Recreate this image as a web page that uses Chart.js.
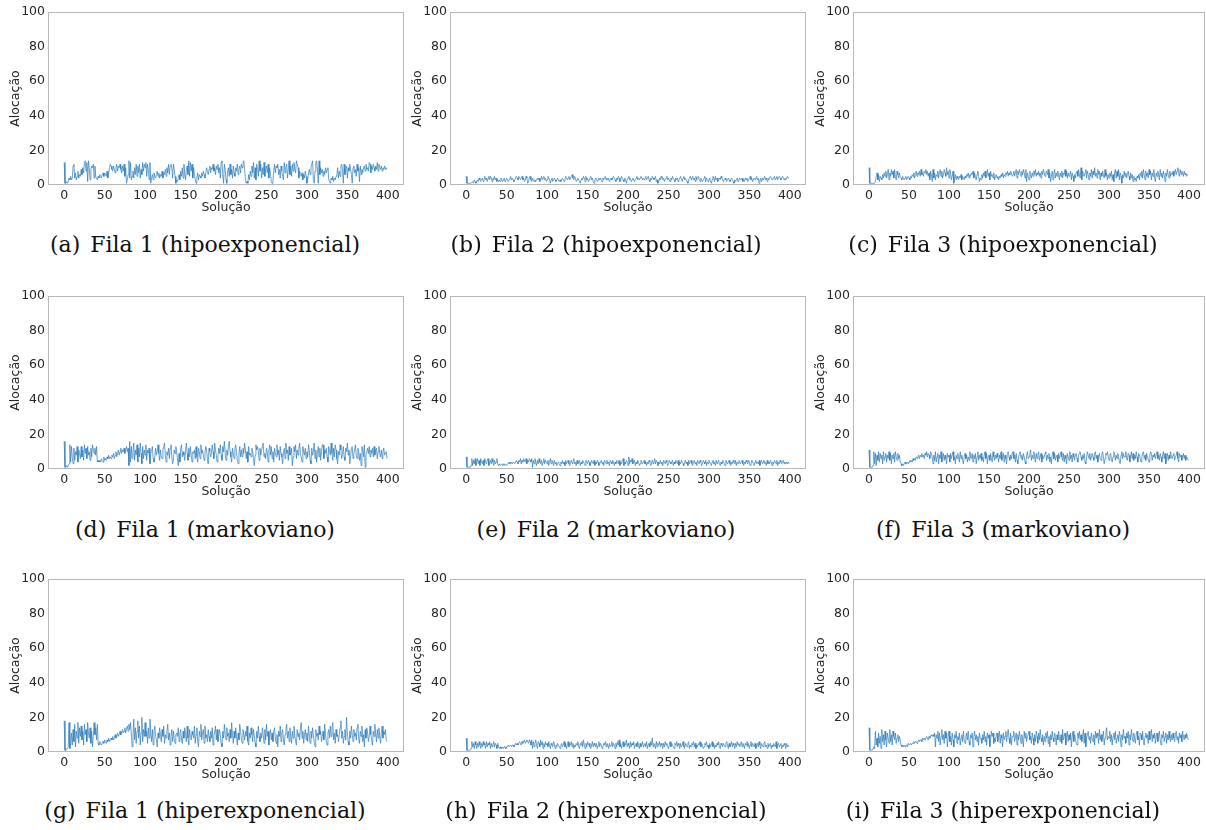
<!DOCTYPE html>
<html>
<head>
<meta charset="utf-8">
<script src="https://cdn.jsdelivr.net/npm/chart.js@4.4.0/dist/chart.umd.min.js"></script>
<style>
  body { margin: 0; background: #fff; width: 1206px; height: 830px; position: relative; overflow: hidden; }
  canvas { position: absolute; }
  .cap { position: absolute; font-family: "DejaVu Serif", serif; font-size: 22px; line-height: 28px; color: #111; white-space: nowrap; transform: translateX(-50%); }
  .cap span { margin-right: 10px; }
</style>
</head>
<body>
<script>
const xTicks = [0, 50, 100, 150, 200, 250, 300, 350, 400];
const yTicks = [0, 20, 40, 60, 80, 100];
const letters = ["(a)", "(b)", "(c)", "(d)", "(e)", "(f)", "(g)", "(h)", "(i)"];
const captions = [
  "Fila 1 (hipoexponencial)", "Fila 2 (hipoexponencial)", "Fila 3 (hipoexponencial)",
  "Fila 1 (markoviano)", "Fila 2 (markoviano)", "Fila 3 (markoviano)",
  "Fila 1 (hiperexponencial)", "Fila 2 (hiperexponencial)", "Fila 3 (hiperexponencial)"
];

// alocação por solução (0..399)
const fila1Hipo = [
13,1,1,2,1,2,4,3,5,3,4,11,12,4,7,3,5,8,4,6,
5,9,6,10,7,13,14,8,13,2,14,10,3,9,11,10,12,4,11,5,
4,3,5,4,6,5,4,6,7,5,7,6,5,8,4,7,10,12,11,9,
8,11,9,7,10,12,8,11,10,12,9,7,11,8,12,5,10,1,3,6,
14,4,13,3,5,8,4,10,6,12,5,11,7,12,4,9,6,13,8,12,
10,13,5,12,9,3,13,1,4,6,3,7,5,4,6,8,5,7,4,6,
5,8,4,7,6,9,5,10,7,12,6,11,12,10,4,12,9,5,1,3,
2,4,6,3,8,5,10,4,12,7,3,9,11,6,14,5,13,8,12,4,
10,6,3,1,4,7,3,6,5,4,7,5,8,6,4,7,10,8,6,9,
11,7,10,9,12,8,10,6,11,9,12,7,10,4,13,14,6,1,12,9,
3,1,8,10,5,12,6,9,4,11,7,5,10,8,12,6,9,11,7,12,
10,13,14,9,4,1,2,1,6,3,8,5,11,7,13,4,10,3,12,9,
5,14,8,12,4,10,6,13,5,9,11,7,12,4,10,6,2,1,3,8,
12,7,11,10,12,6,9,4,11,8,5,3,13,7,10,12,4,9,14,6,
11,5,12,8,13,9,7,14,12,10,4,8,6,5,7,3,6,4,8,5,
1,3,7,9,6,10,12,14,3,1,8,13,14,9,1,14,6,10,7,9,
5,8,6,10,7,9,10,3,2,1,4,3,5,2,4,3,5,6,10,4,
8,5,11,12,9,1,12,6,10,11,4,10,8,12,9,6,1,10,11,7,
9,5,12,8,10,2,11,6,9,7,10,11,8,12,9,10,8,13,12,7,
11,9,12,10,8,11,9,13,8,12,10,9,11,8,10,9,11,9,10,9
];
const fila2Hipo = [
5,1,1,1,1,1,1,1,2,1,3,2,1,2,3,2,4,3,2,3,
4,2,3,5,3,4,2,4,5,3,5,4,2,4,3,5,3,4,2,3,
2,3,2,4,3,2,3,4,2,3,4,3,2,3,4,5,3,4,3,2,
3,4,5,4,3,5,4,3,4,5,3,4,2,3,5,4,1,2,4,5,
3,2,4,3,2,3,2,3,4,3,4,2,3,5,3,4,5,3,4,2,
3,5,4,3,1,3,4,2,3,4,3,2,3,4,3,2,3,2,3,4,
3,2,3,5,4,3,4,5,3,4,5,6,4,3,5,4,2,3,4,3,
2,1,3,4,3,5,4,2,5,3,4,2,3,4,5,3,4,2,1,3,
4,3,2,3,4,3,4,3,2,4,3,4,5,3,4,3,4,2,3,4,
3,4,5,4,3,2,4,3,5,4,2,3,5,4,3,2,4,3,1,3,
4,5,3,4,2,3,4,3,2,3,4,5,3,4,3,4,5,4,3,4,
3,4,5,3,4,5,3,2,4,3,5,4,3,4,5,2,3,1,2,4,
3,5,4,3,4,2,3,4,5,3,4,3,2,4,3,5,4,3,2,4,
3,4,2,3,4,5,3,2,4,5,3,4,3,2,1,3,4,5,3,4,
5,3,4,2,5,3,4,5,3,2,4,3,2,3,4,5,2,4,3,2,
3,4,2,1,3,5,4,2,5,3,4,2,3,4,3,5,4,3,2,3,
4,3,2,3,4,3,2,3,4,3,2,1,3,2,3,4,2,3,4,3,
3,4,2,3,2,4,3,4,2,3,4,5,3,4,2,3,4,3,4,5,
3,4,1,3,4,2,4,3,4,5,3,4,2,4,3,4,5,4,3,4,
4,5,3,4,5,3,4,5,4,3,4,5,4,3,4,3,4,5,4,4
];
const fila3Hipo = [
10,1,1,1,1,1,1,1,2,5,7,3,6,2,5,4,3,6,4,7,
5,8,4,6,9,3,7,5,9,6,8,4,9,5,3,8,6,4,7,5,
4,3,5,4,3,4,5,3,4,5,4,3,5,4,6,5,7,4,6,8,
5,7,6,8,5,9,6,7,5,8,7,9,6,8,5,7,3,8,6,2,
9,4,7,3,6,5,8,4,7,9,5,8,4,6,9,7,5,10,6,8,
4,9,7,3,5,8,1,4,6,3,5,4,3,5,4,6,3,5,4,3,
5,4,6,5,7,4,6,5,7,6,8,4,7,5,3,6,8,5,2,4,
3,6,4,7,5,8,4,6,9,5,7,3,8,5,6,4,7,3,5,6,
4,5,3,5,4,6,5,7,4,6,5,7,6,8,5,7,6,8,7,5,
6,8,5,7,9,4,8,6,9,7,5,8,6,9,7,4,9,2,7,5,
3,8,6,4,7,5,8,6,9,5,7,6,8,5,7,4,8,6,9,7,
5,7,8,6,9,4,7,2,5,8,3,6,9,4,7,5,8,6,3,7,
5,8,4,7,6,9,5,8,4,7,5,6,8,3,7,5,2,6,4,7,
8,5,9,6,4,10,3,8,6,5,7,9,4,8,6,3,7,5,9,4,
8,6,10,5,7,4,9,6,8,3,7,5,8,6,4,9,5,7,3,6,
4,7,5,8,3,6,2,7,9,4,8,5,9,3,7,5,1,6,4,8,
5,7,4,6,8,5,3,7,4,6,2,5,3,4,2,5,4,6,3,7,
5,8,4,9,6,3,8,5,7,4,9,6,8,3,7,5,9,4,2,7,
5,8,6,3,9,5,7,4,8,6,2,7,5,9,6,4,8,5,7,6,
8,5,7,9,6,8,10,7,5,9,6,8,7,5,8,6,7,5,6,6
];
const fila1Markov = [
16,1,1,2,1,2,3,14,4,13,7,3,12,5,10,8,13,4,11,9,
6,13,7,11,5,14,9,12,6,13,8,10,5,12,7,14,11,9,12,8,
13,4,5,4,5,4,6,5,4,7,5,6,5,7,6,8,6,7,6,8,
7,9,6,8,10,7,9,11,8,10,12,9,11,10,12,9,11,13,10,12,
2,16,4,13,6,10,15,5,11,8,14,4,12,7,15,9,3,13,6,11,
8,14,5,11,9,12,3,9,10,13,6,4,7,12,8,10,14,9,5,11,
7,6,11,13,15,8,4,10,8,12,6,12,14,7,3,5,11,9,13,10,
6,2,9,4,12,14,7,10,8,5,11,15,9,5,12,7,13,8,4,10,
9,11,6,13,7,4,12,10,6,14,9,11,8,5,9,13,11,6,3,12,
10,7,9,14,10,6,15,11,8,4,7,12,9,14,8,5,13,10,16,9,
5,11,8,13,16,10,7,4,12,9,6,12,14,10,5,3,9,13,7,11,
7,12,9,15,11,6,10,4,13,8,9,7,12,10,6,2,8,14,11,13,
10,5,12,8,11,13,15,7,9,6,12,10,4,11,14,8,13,6,10,4,
12,9,7,14,8,11,5,13,9,7,3,10,12,6,15,9,11,5,13,8,
9,12,2,7,13,10,14,6,11,8,12,15,9,7,4,13,10,8,12,6,
10,7,14,11,5,3,12,8,10,15,6,11,4,9,13,7,12,5,10,14,
14,6,11,9,12,7,4,13,10,8,15,9,5,12,7,14,11,6,3,10,
8,14,11,6,9,13,7,5,12,10,15,8,11,3,7,12,13,6,9,11,
14,8,6,12,10,5,9,2,13,11,7,14,1,8,10,12,9,13,7,11,
9,12,7,13,8,11,12,6,10,13,9,7,11,6,10,12,8,9,10,6
];
const fila2Markov = [
7,1,1,1,1,1,2,6,2,5,3,6,2,4,6,3,5,2,6,4,
3,5,2,6,4,3,5,6,2,4,5,3,6,4,2,5,3,4,6,3,
2,3,2,2,3,2,3,2,3,3,2,3,3,4,3,3,4,3,4,4,
3,4,5,4,3,5,4,6,3,5,4,6,5,4,6,3,5,4,6,5,
4,6,1,5,3,6,4,2,5,3,6,4,3,5,2,4,6,3,5,4,
3,5,2,4,6,3,5,4,2,5,3,4,2,3,4,3,2,4,3,5,
3,4,2,5,3,4,5,3,2,4,5,3,4,6,3,4,2,5,3,4,
5,2,4,3,5,4,3,2,5,4,3,5,4,2,3,5,4,3,5,2,
4,3,5,4,2,3,4,5,3,4,2,5,4,3,5,3,4,2,5,4,
3,5,4,2,4,3,5,4,3,5,2,4,3,5,6,2,4,3,5,4,
2,7,3,5,4,6,3,4,5,2,4,3,5,4,2,3,5,4,3,4,
5,3,4,2,4,3,5,4,2,3,5,3,4,6,3,5,4,2,4,3,
5,3,4,2,5,4,3,5,4,2,3,5,4,3,4,5,2,4,3,5,
4,3,5,2,4,3,5,4,3,2,4,5,3,4,2,5,3,4,5,3,
2,4,5,3,4,2,5,4,3,5,4,2,3,5,4,3,5,2,4,3,
5,4,3,2,4,5,3,4,2,5,3,4,5,3,2,4,3,5,4,3,
2,5,4,3,4,5,3,2,4,3,5,4,3,5,2,4,3,5,4,3,
4,5,3,2,4,3,5,4,3,5,4,2,3,5,4,3,2,4,5,3,
4,3,5,2,4,5,3,4,5,3,4,2,5,3,4,3,5,4,2,4,
3,5,4,3,5,2,4,3,5,4,3,4,5,3,4,3,4,3,4,3
];
const fila3Markov = [
11,1,1,1,1,2,10,3,9,2,8,5,10,4,9,6,8,3,10,5,
7,9,4,8,6,10,5,9,3,8,6,9,4,10,7,5,9,6,8,4,
3,2,3,2,3,4,3,3,4,3,4,5,4,5,4,6,5,6,5,7,
6,7,8,6,8,7,9,7,8,6,9,8,10,7,9,8,6,10,9,7,
3,8,5,10,4,7,9,3,8,6,10,4,7,9,5,8,6,3,9,7,
8,4,9,6,8,10,5,7,3,8,6,9,7,4,10,6,8,5,3,7,
9,6,8,4,7,5,10,7,6,9,4,8,6,9,3,7,10,5,8,6,
9,5,7,4,8,10,6,9,3,7,8,5,9,6,4,10,7,5,8,6,
9,7,4,8,6,10,5,7,9,4,8,6,3,9,10,7,5,8,6,9,
10,6,8,4,9,5,3,7,9,10,6,8,5,9,7,4,3,8,10,6,
7,9,11,5,8,6,10,7,4,9,6,8,10,5,7,9,4,8,6,7,
9,10,5,8,6,9,4,7,3,8,10,6,9,5,7,8,4,9,6,8,
10,7,5,9,4,8,6,3,9,7,5,10,6,8,4,9,7,5,8,9,
6,4,8,9,10,7,5,8,6,9,4,3,7,10,8,6,9,5,7,9,
7,5,9,10,6,8,4,7,9,6,5,8,10,7,3,6,9,8,10,7,
5,8,9,6,4,7,10,9,5,8,6,9,7,4,3,8,10,6,9,7,
7,10,6,5,9,8,4,7,10,6,9,5,8,6,10,7,4,9,8,6,
4,7,9,10,6,8,5,9,7,6,4,8,10,9,5,8,7,9,6,8,
10,6,8,5,9,7,4,8,10,6,9,3,7,9,5,8,6,10,7,6,
8,9,5,7,8,10,6,4,9,7,8,5,7,9,6,8,5,7,6,5
];
const fila1Hiper = [
18,1,1,2,2,3,17,2,5,11,4,13,6,16,3,12,8,17,5,14,
9,15,7,12,4,16,10,13,6,17,11,8,14,5,12,3,9,17,10,14,
7,16,5,4,6,5,4,5,6,5,7,6,5,7,6,8,6,7,8,7,
9,7,8,10,8,9,11,9,10,12,10,11,13,11,12,14,11,13,15,12,
16,13,17,10,3,9,19,7,14,5,12,18,8,15,4,11,20,6,13,9,
17,9,12,5,14,8,19,11,6,13,4,12,15,9,7,3,11,8,14,10,
6,13,9,15,5,10,8,12,16,7,11,4,9,13,6,12,8,5,10,11,
9,14,6,11,13,7,5,12,8,14,10,6,15,8,4,13,9,7,12,10,
8,15,5,10,14,6,3,12,9,16,7,11,13,5,15,8,10,6,13,9,
6,12,8,14,4,10,11,15,7,13,6,9,13,10,5,3,12,8,16,10,
7,14,9,11,6,13,8,17,10,5,12,8,14,9,4,11,7,16,12,8,
5,13,10,7,12,9,15,6,4,11,8,14,10,6,13,9,5,3,12,8,
15,9,6,11,8,14,10,5,13,7,16,9,12,4,10,13,7,11,6,12,
14,8,5,10,3,12,9,15,6,11,13,7,4,10,13,16,8,12,6,14,
9,5,12,8,15,10,6,4,13,9,11,7,14,17,8,12,5,10,13,7,
11,6,15,9,5,12,8,14,10,6,3,13,9,11,7,15,10,12,6,9,
12,7,16,10,6,4,11,13,8,15,9,14,17,7,11,5,13,9,10,6,
10,14,18,8,12,5,9,13,7,20,11,6,4,12,8,15,10,6,13,9,
11,7,14,16,8,5,12,9,15,6,10,3,13,8,14,11,6,9,15,10,
7,4,12,9,16,10,6,13,8,14,9,5,11,15,8,12,10,13,7,6
];
const fila2Hiper = [
8,1,1,1,1,1,2,6,3,5,2,6,4,2,5,3,6,4,2,5,
3,6,4,5,2,6,3,5,4,6,2,5,3,4,6,3,5,4,2,5,
3,2,3,2,2,3,2,3,3,2,3,3,4,3,3,4,3,4,4,3,
4,5,4,5,4,5,6,5,4,6,5,6,7,5,6,7,6,5,7,6,
4,7,2,6,3,5,7,4,2,6,5,3,7,4,6,2,5,3,6,4,
5,3,6,4,2,5,4,3,6,5,2,4,3,5,4,3,2,4,5,3,
4,6,3,5,2,4,6,3,5,4,6,3,5,2,4,3,5,4,6,3,
2,5,4,6,3,7,4,2,5,3,6,4,5,3,2,4,6,3,5,4,
3,5,2,4,6,3,5,4,2,3,5,4,6,3,5,4,2,5,3,4,
6,3,5,4,2,5,3,6,4,7,3,5,2,4,6,3,5,4,7,3,
5,4,2,6,3,5,4,6,2,4,5,3,6,4,2,5,3,4,6,3,
4,5,3,6,2,4,5,3,6,4,8,3,5,4,2,6,3,5,4,6,
3,5,4,2,5,3,6,4,5,3,2,4,6,3,5,4,3,2,5,4,
6,3,5,4,2,5,3,4,6,3,2,5,4,3,5,6,2,4,3,5,
4,6,3,5,2,4,3,5,4,6,3,5,4,2,3,5,4,6,3,4,
2,5,3,4,6,3,5,2,4,3,5,4,6,3,2,5,4,3,5,4,
3,5,6,4,2,5,3,4,6,3,5,4,2,5,3,6,4,5,3,4,
6,3,5,4,2,5,4,6,3,5,2,4,6,3,5,4,3,5,2,4,
5,3,6,4,2,5,4,3,5,6,3,4,2,5,3,4,5,2,4,3,
5,4,3,6,2,4,5,3,4,5,2,4,3,5,4,2,5,3,4,3
];
const fila3Hiper = [
14,1,1,1,1,2,3,2,12,4,8,3,11,5,9,2,13,6,10,4,
12,7,3,11,8,5,13,6,10,4,12,9,7,11,5,8,10,6,9,7,
4,3,4,3,4,3,4,4,3,5,4,4,5,4,5,5,6,5,6,6,
5,6,7,6,7,7,6,8,7,8,7,8,9,8,7,9,8,9,10,9,
10,9,11,3,10,8,12,6,11,4,9,13,7,10,5,12,8,11,3,9,
12,6,9,4,11,7,3,10,8,12,5,9,7,11,4,8,10,6,12,7,
5,9,11,7,12,6,4,10,8,11,3,9,12,7,10,6,9,4,11,8,
8,5,10,7,12,6,9,4,11,8,10,3,7,12,9,11,5,8,6,10,
11,6,9,12,5,10,8,3,11,7,9,12,6,10,13,8,5,11,4,9,
9,12,6,8,11,4,10,7,12,9,5,10,7,3,12,8,11,6,9,10,
12,7,9,5,11,8,4,10,6,12,9,5,11,7,13,8,6,10,4,9,
6,11,8,12,5,9,3,10,7,12,8,6,11,9,4,10,7,12,8,6,
10,5,13,7,9,11,4,8,12,6,10,7,11,3,9,12,6,10,8,5,
4,11,8,12,7,10,6,9,13,5,11,3,8,10,12,7,9,5,11,8,
6,10,4,12,8,11,9,5,13,7,10,6,9,12,4,8,11,14,7,9,
8,12,6,10,4,9,11,7,12,5,8,10,6,12,9,3,10,7,13,8,
9,5,11,8,12,4,10,7,13,9,6,11,8,5,10,12,7,9,4,11,
10,7,12,6,4,9,11,8,10,5,12,7,9,13,6,10,8,11,5,9,
11,6,9,12,7,4,10,8,12,6,9,11,5,10,7,12,8,6,10,7,
11,8,6,10,12,7,9,5,11,8,10,6,12,9,7,10,8,11,9,7
];

const series = [fila1Hipo, fila2Hipo, fila3Hipo, fila1Markov, fila2Markov, fila3Markov, fila1Hiper, fila2Hiper, fila3Hiper];

// layout of the 3x3 grid
const colLeft = [0, 402, 805];
const colWidth = [406, 406, 401];
const colPadRight = [2, 2, 1];
const rowTop = [0, 284, 567];
const capX = [205, 606, 1003];
const capY = [231, 516, 797];

const framePlugin = {
  id: "frame",
  afterDraw(chart) {
    const { ctx, chartArea: a } = chart;
    ctx.save();
    ctx.strokeStyle = "#b8b8b8";
    ctx.lineWidth = 1;
    ctx.strokeRect(Math.round(a.left) + 0.5, Math.round(a.top) + 0.5, Math.round(a.right - a.left) - 1, Math.round(a.bottom - a.top) - 1);
    ctx.restore();
  }
};

const tickFont = { family: "DejaVu Sans", size: 12.5 };

series.forEach((vals, i) => {
  const r = Math.floor(i / 3), c = i % 3;
  const canvas = document.createElement("canvas");
  canvas.width = colWidth[c];
  canvas.height = 215;
  canvas.style.left = colLeft[c] + "px";
  canvas.style.top = rowTop[r] + "px";
  document.body.appendChild(canvas);

  new Chart(canvas, {
    type: "line",
    data: {
      datasets: [{
        data: vals.map((v, x) => ({ x: x, y: v })),
        borderColor: "#2b7bba",
        borderWidth: 0.7,
        pointRadius: 0,
        tension: 0
      }]
    },
    options: {
      responsive: false,
      animation: false,
      devicePixelRatio: 1,
      layout: { padding: { left: 8, top: 12, right: colPadRight[c], bottom: 0 } },
      plugins: { legend: { display: false }, tooltip: { enabled: false } },
      scales: {
        x: {
          type: "linear",
          min: -20,
          max: 420,
          afterBuildTicks: (s) => { s.ticks = xTicks.map(v => ({ value: v })); },
          afterFit: (s) => { s.height = 30; },
          grid: { display: false, drawTicks: false },
          border: { display: false },
          ticks: { font: tickFont, color: "#262626", padding: 3, maxRotation: 0, autoSkip: false },
          title: { display: true, text: "Solução", font: tickFont, color: "#262626", padding: 0 }
        },
        y: {
          min: 0,
          max: 100,
          afterBuildTicks: (s) => { s.ticks = yTicks.map(v => ({ value: v })); },
          afterFit: (s) => { s.width = 40; },
          grid: { display: false, drawTicks: false },
          border: { display: false },
          ticks: { font: tickFont, color: "#262626", padding: 3 },
          title: { display: true, text: "Alocação", font: tickFont, color: "#262626", padding: 0 }
        }
      }
    },
    plugins: [framePlugin]
  });

  const cap = document.createElement("div");
  cap.className = "cap";
  cap.style.left = capX[c] + "px";
  cap.style.top = capY[r] + "px";
  cap.innerHTML = "<span>" + letters[i] + "</span>" + captions[i];
  document.body.appendChild(cap);
});
</script>
</body>
</html>
